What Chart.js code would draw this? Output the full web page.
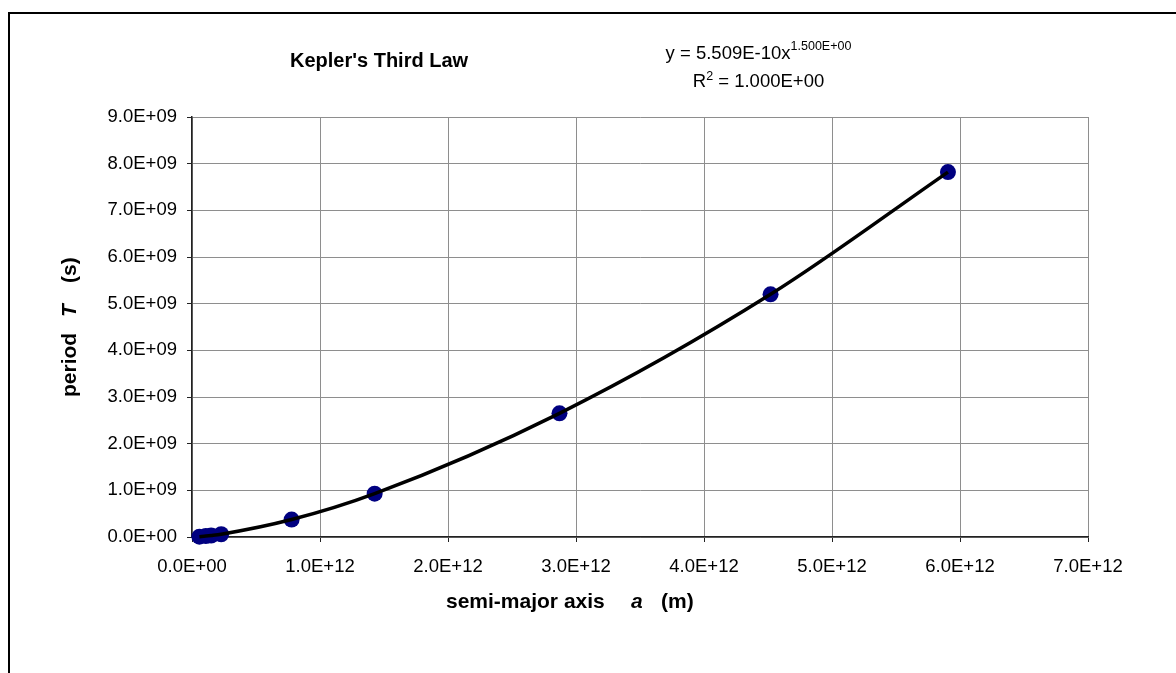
<!DOCTYPE html>
<html>
<head>
<meta charset="utf-8">
<script src="https://cdn.jsdelivr.net/npm/chart.js@4/dist/chart.umd.min.js"></script>
<style>
  html, body { margin: 0; padding: 0; background: #fff; }
  #wrap { width: 1176px; height: 673px; position: relative; }
</style>
</head>
<body>
<div id="wrap"><canvas id="kepler" width="1176" height="673"></canvas></div>
<script>
// Planetary orbits: semi-major axis (m) and orbital period (s)
const planets = ['Mercury', 'Venus', 'Earth', 'Mars', 'Jupiter', 'Saturn', 'Uranus', 'Neptune', 'Pluto'];
const semiMajorAxis = [5.79e10, 1.082e11, 1.496e11, 2.279e11, 7.783e11, 1.427e12, 2.871e12, 4.52e12, 5.906e12];
const orbitalPeriod = [7.60e6, 1.94e7, 3.156e7, 5.94e7, 3.74e8, 9.29e8, 2.65e9, 5.20e9, 7.82e9];

// Axis ticks
const xTickValues = [0, 1e12, 2e12, 3e12, 4e12, 5e12, 6e12, 7e12];
const yTickValues = [0, 1e9, 2e9, 3e9, 4e9, 5e9, 6e9, 7e9, 8e9, 9e9];

// Texts
const chartTitle = "Kepler's Third Law";
const fitCoefficient = '5.509E-10';
const fitExponent = '1.500E+00';
const fitRSquared = '1.000E+00';

const FONT = '"Liberation Sans", Arial, sans-serif';

const points = semiMajorAxis.map((a, i) => ({ x: a, y: orbitalPeriod[i] }));

function sci(v) {
  let s = Number(v).toExponential(1).toUpperCase();
  return s.replace(/E([+-])(\d)$/, 'E$10$2');
}

const decorations = {
  id: 'decorations',
  afterDraw(chart) {
    const ctx = chart.ctx;
    ctx.save();
    // outer frame
    ctx.strokeStyle = '#000';
    ctx.lineWidth = 2;
    ctx.beginPath();
    ctx.moveTo(9, 673);
    ctx.lineTo(9, 13);
    ctx.lineTo(1176, 13);
    ctx.stroke();

    ctx.fillStyle = '#000';
    ctx.textBaseline = 'alphabetic';

    // title
    ctx.font = `bold 20px ${FONT}`;
    ctx.textAlign = 'left';
    ctx.fillText(chartTitle, 290, 67);

    // fit equation, centred lines
    const cx = 758.5;
    ctx.font = `18.5px ${FONT}`;
    const main1 = 'y = ' + fitCoefficient + 'x';
    const w1 = ctx.measureText(main1).width;
    ctx.font = `12.5px ${FONT}`;
    const wExp = ctx.measureText(fitExponent).width;
    let x1 = cx - (w1 + wExp) / 2;
    ctx.font = `18.5px ${FONT}`;
    ctx.fillText(main1, x1, 59);
    ctx.font = `12.5px ${FONT}`;
    ctx.fillText(fitExponent, x1 + w1, 50);

    ctx.font = `18.5px ${FONT}`;
    const wR = ctx.measureText('R').width;
    const rest = ' = ' + fitRSquared;
    const wRest = ctx.measureText(rest).width;
    ctx.font = `12.5px ${FONT}`;
    const w2 = ctx.measureText('2').width;
    let x2 = cx - (wR + w2 + wRest) / 2;
    ctx.font = `18.5px ${FONT}`;
    ctx.fillText('R', x2, 87);
    ctx.font = `12.5px ${FONT}`;
    ctx.fillText('2', x2 + wR, 80);
    ctx.font = `18.5px ${FONT}`;
    ctx.fillText(rest, x2 + wR + w2, 87);

    // x axis title
    ctx.font = `bold 21px ${FONT}`;
    ctx.fillText('semi-major axis', 446, 608);
    ctx.font = `italic bold 21px ${FONT}`;
    ctx.fillText('a', 631, 608);
    ctx.font = `bold 21px ${FONT}`;
    ctx.fillText('(m)', 661, 608);

    // y axis title (rotated)
    ctx.translate(76, 0);
    ctx.rotate(-Math.PI / 2);
    ctx.font = `bold 21px ${FONT}`;
    ctx.fillText('period', -397, 0);
    ctx.font = `italic bold 21px ${FONT}`;
    ctx.fillText('T', -317, 0);
    ctx.font = `bold 21px ${FONT}`;
    ctx.fillText('(s)', -283, 0);
    ctx.restore();
  }
};

new Chart(document.getElementById('kepler'), {
  type: 'scatter',
  data: {
    datasets: [
      {
        label: 'Power trendline',
        data: points,
        showLine: true,
        cubicInterpolationMode: 'monotone',
        borderColor: '#000',
        borderWidth: 3.5,
        pointRadius: 0,
        pointHoverRadius: 0,
        fill: false,
        order: 0,
        clip: false
      },
      {
        label: 'Planets',
        data: points,
        showLine: false,
        pointRadius: 8,
        pointHoverRadius: 8,
        backgroundColor: '#000080',
        borderColor: '#000080',
        borderWidth: 0,
        order: 1,
        clip: false
      }
    ]
  },
  options: {
    responsive: false,
    animation: false,
    devicePixelRatio: 1,
    layout: { padding: { left: 0, top: 117, right: 88, bottom: 0 } },
    plugins: {
      legend: { display: false },
      title: { display: false },
      tooltip: { enabled: false }
    },
    scales: {
      x: {
        type: 'linear',
        min: 0,
        max: 7e12,
        afterBuildTicks: s => { s.ticks = xTickValues.map(v => ({ value: v })); },
        afterFit: s => { s.height = 136; },
        ticks: {
          callback: v => sci(v),
          color: '#000',
          font: { family: FONT, size: 18.5 },
          padding: 14,
          maxRotation: 0,
          autoSkip: false
        },
        grid: { color: '#8e8e8e', lineWidth: 1, tickLength: 5, tickColor: '#222', drawTicks: true },
        border: { color: '#222', width: 1.5 }
      },
      y: {
        type: 'linear',
        min: 0,
        max: 9e9,
        afterBuildTicks: s => { s.ticks = yTickValues.map(v => ({ value: v })); },
        afterFit: s => { s.width = 192; },
        ticks: {
          callback: v => sci(v),
          color: '#000',
          font: { family: FONT, size: 18.5 },
          padding: 10,
          autoSkip: false
        },
        grid: { color: '#8e8e8e', lineWidth: 1, tickLength: 5, tickColor: '#222', drawTicks: true },
        border: { color: '#222', width: 1.5 }
      }
    }
  },
  plugins: [decorations]
});
</script>
</body>
</html>
